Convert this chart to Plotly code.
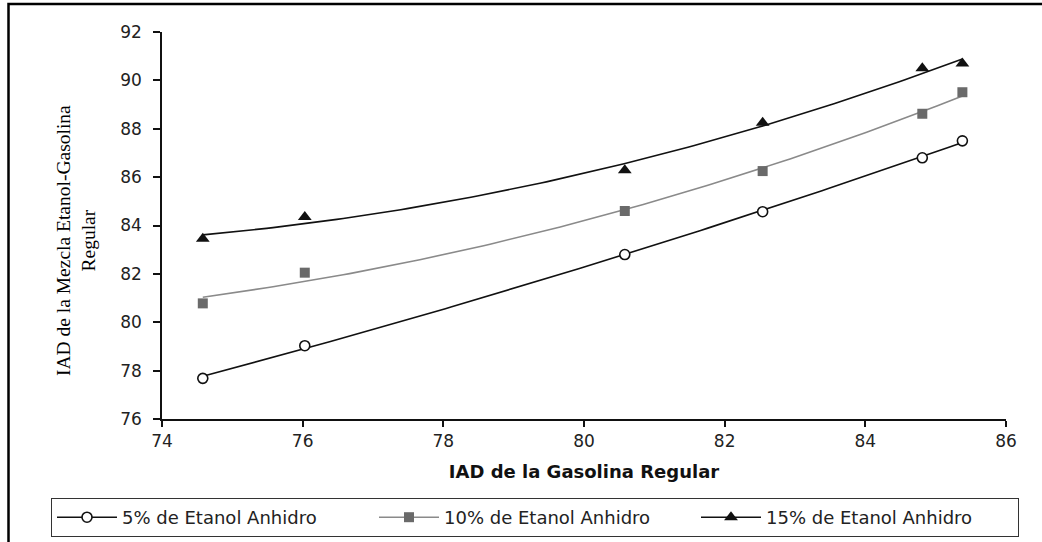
import numpy as np
import plotly.graph_objects as go

# IAD of regular gasoline (x) and of the ethanol blends (y)
x_gasolina = [74.58, 76.03, 80.58, 82.54, 84.81, 85.38]
iad_5 = [77.68, 79.03, 82.80, 84.57, 86.80, 87.50]
iad_10 = [80.78, 82.05, 84.60, 86.25, 88.62, 89.51]
iad_15 = [83.45, 84.35, 86.28, 88.25, 90.50, 90.70]

series_names = [
    "5% de Etanol Anhidro",
    "10% de Etanol Anhidro",
    "15% de Etanol Anhidro",
]
x_ticks = [74, 76, 78, 80, 82, 84, 86]
y_ticks = [76, 78, 80, 82, 84, 86, 88, 90, 92]

SANS = "'DejaVu Sans', 'Open Sans', sans-serif"
SERIF = "'Liberation Serif', 'DejaVu Serif', serif"

W, H = 1042, 542
L, R, T, B = 162, 36, 32, 123
PW, PH = W - L - R, H - T - B

styles = [
    dict(line="#111111", marker=dict(symbol="circle", size=10, color="white",
                                     line=dict(color="#111111", width=1.6))),
    dict(line="#8a8a8a", marker=dict(symbol="square", size=10, color="#6a6a6a",
                                     line=dict(width=0))),
    dict(line="#111111", marker=dict(symbol="triangle-up", size=12, color="#111111",
                                     line=dict(width=0))),
]

fig = go.Figure()

for name, ys, st in zip(series_names, [iad_5, iad_10, iad_15], styles):
    # second-order polynomial trend line over the measured range
    coef = np.polyfit(x_gasolina, ys, 2)
    xs = np.linspace(min(x_gasolina), max(x_gasolina), 120)
    fig.add_trace(go.Scatter(
        x=xs, y=np.polyval(coef, xs), mode="lines",
        line=dict(color=st["line"], width=1.6),
        showlegend=False, hoverinfo="skip",
    ))
    fig.add_trace(go.Scatter(
        x=x_gasolina, y=ys, mode="markers", marker=st["marker"],
        showlegend=False, name=name,
    ))
    # legend entry: line with marker
    fig.add_trace(go.Scatter(
        x=[None], y=[None], mode="lines+markers", name=name,
        line=dict(color=st["line"], width=1.6), marker=st["marker"],
    ))

axis_common = dict(
    showgrid=False, zeroline=False, showline=True,
    linecolor="#111111", linewidth=1.5,
    ticks="outside", tickcolor="#111111", tickwidth=1.5,
    tickfont=dict(family=SANS, size=17, color="#222222"),
)

fig.update_xaxes(
    range=[74, 86], tickvals=x_ticks, ticklen=6,
    title=dict(text="<b>IAD de la Gasolina Regular</b>",
               font=dict(family=SANS, size=18, color="#111111"), standoff=15),
    **axis_common,
)
fig.update_yaxes(
    range=[76, 92], tickvals=y_ticks, ticklen=7, ticklabelstandoff=8,
    **axis_common,
)

# y-axis title, two lines, rotated
fig.add_annotation(
    text="IAD de la Mezcla Etanol-Gasolina<br>Regular",
    xref="paper", yref="paper",
    x=(76 - L) / PW, y=(H - B - 241) / PH,
    xanchor="center", yanchor="middle", textangle=-90, showarrow=False,
    font=dict(family=SERIF, size=19.5, color="#000000"),
)

# outer frame
fig.add_shape(
    type="rect", xref="paper", yref="paper",
    x0=(8.5 - L) / PW, x1=(W + 10 - L) / PW,
    y0=(H - B - (H + 10)) / PH, y1=(H - B - 4) / PH,
    line=dict(color="#000000", width=2.5), fillcolor="rgba(0,0,0,0)",
)

fig.update_layout(
    width=W, height=H,
    margin=dict(l=L, r=R, t=T, b=B, autoexpand=False),
    paper_bgcolor="white", plot_bgcolor="white",
    showlegend=True,
    legend=dict(
        orientation="h",
        xref="paper", yref="paper",
        x=(51 - L) / PW, xanchor="left",
        y=-(498 - (H - B)) / PH, yanchor="top",
        bordercolor="#333333", borderwidth=1,
        font=dict(family=SANS, size=18, color="#222222"),
        entrywidth=247, entrywidthmode="pixels",
        itemwidth=60,
    ),
)

fig.write_html("out.html")
